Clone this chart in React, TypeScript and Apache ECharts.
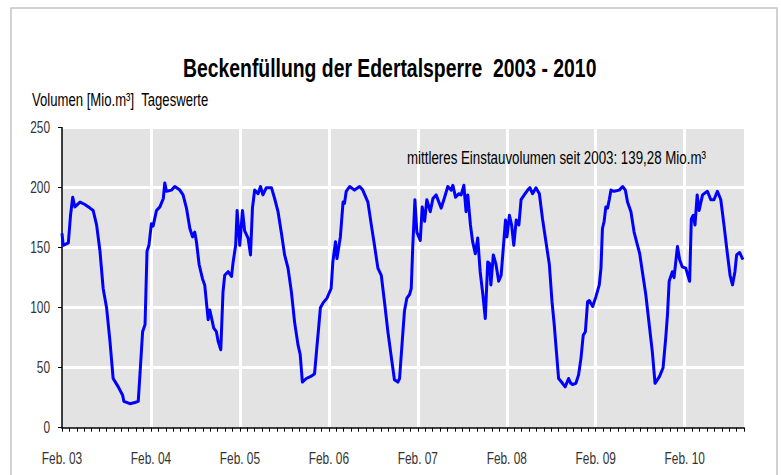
import React, { useEffect, useRef } from "react";
import * as echarts from "echarts";

// ---- data ----
const dates2003 = ["2003-02-01","2003-02-06","2003-02-27","2003-03-08","2003-03-17","2003-03-26","2003-04-16","2003-05-06","2003-05-27","2003-06-09","2003-06-23","2003-07-07","2003-07-20","2003-08-03","2003-08-17","2003-08-30","2003-09-20","2003-10-08","2003-10-13","2003-11-07","2003-11-27","2003-12-11","2003-12-18","2003-12-29"];
const vol2003 = [162,152,154,177,192,184,188,186,183,181,169,147,116,100,72,41,34,27,22,20,21,22,44,80];

const dates2004 = ["2004-01-08","2004-01-16","2004-01-24","2004-02-03","2004-02-10","2004-02-24","2004-03-09","2004-03-23","2004-03-29","2004-04-05","2004-04-26","2004-05-09","2004-05-30","2004-06-12","2004-06-26","2004-07-10","2004-07-21","2004-07-30","2004-08-06","2004-08-17","2004-08-31","2004-09-09","2004-09-23","2004-09-30","2004-10-16","2004-10-27","2004-11-03","2004-11-14","2004-11-23","2004-11-30","2004-12-14","2004-12-28"];
const vol2004 = [86,147,152,170,168,181,184,191,204,197,198,201,198,194,183,166,159,163,155,136,124,119,90,98,83,80,72,65,113,127,130,126];

const dates2005 = ["2005-01-03","2005-01-14","2005-01-20","2005-01-31","2005-02-11","2005-02-20","2005-03-06","2005-03-16","2005-03-24","2005-04-02","2005-04-16","2005-04-26","2005-05-06","2005-05-20","2005-06-10","2005-06-23","2005-07-07","2005-07-21","2005-08-03","2005-08-17","2005-08-31","2005-09-13","2005-09-27","2005-10-06","2005-10-15","2005-10-31","2005-11-21","2005-12-04","2005-12-13","2005-12-22","2005-12-28"];
const vol2005 = [137,152,181,152,181,164,158,144,183,198,195,201,194,200,200,191,180,162,144,133,113,88,69,61,38,41,43,45,66,86,100];

const dates2006 = ["2006-01-08","2006-01-24","2006-02-10","2006-02-17","2006-02-28","2006-03-06","2006-03-20","2006-03-31","2006-04-06","2006-04-13","2006-04-27","2006-05-17","2006-06-07","2006-06-20","2006-07-11","2006-07-25","2006-08-07","2006-08-21","2006-09-04","2006-09-17","2006-10-01","2006-10-15","2006-10-28","2006-11-11","2006-11-18","2006-11-29","2006-12-08","2006-12-18","2006-12-29"];
const vol2006 = [104,108,116,138,155,141,159,188,187,197,201,198,201,198,188,169,152,133,127,105,80,59,40,38,41,72,97,108,111];

const dates2007 = ["2007-01-05","2007-01-11","2007-01-20","2007-01-28","2007-02-11","2007-02-19","2007-03-01","2007-03-10","2007-03-24","2007-04-04","2007-04-17","2007-05-08","2007-05-22","2007-06-04","2007-06-18","2007-06-25","2007-07-06","2007-07-19","2007-07-29","2007-08-09","2007-08-18","2007-08-25","2007-09-05","2007-09-14","2007-09-25","2007-10-05","2007-10-15","2007-10-26","2007-11-05","2007-11-15","2007-11-22","2007-11-28","2007-12-08","2007-12-19","2007-12-30"];
const vol2007 = [116,150,190,163,156,184,172,190,180,191,194,183,192,201,198,202,192,195,194,202,180,194,169,155,145,158,130,111,91,138,137,119,144,136,122];

const dates2008 = ["2008-01-09","2008-01-18","2008-01-27","2008-02-02","2008-02-12","2008-02-21","2008-03-01","2008-03-11","2008-03-22","2008-03-31","2008-04-13","2008-04-27","2008-05-06","2008-05-17","2008-05-31","2008-06-14","2008-06-27","2008-07-11","2008-07-25","2008-08-05","2008-08-14","2008-08-24","2008-09-01","2008-09-17","2008-09-28","2008-10-12","2008-10-21","2008-10-28","2008-11-11","2008-11-22","2008-12-02","2008-12-11","2008-12-20","2008-12-29"];
const vol2008 = [127,150,173,159,177,169,152,173,169,190,194,198,200,195,200,195,174,155,136,105,86,61,41,37,34,41,37,36,37,44,58,77,80,105];

const dates2009 = ["2009-01-05","2009-01-19","2009-02-01","2009-02-15","2009-02-22","2009-02-28","2009-03-07","2009-03-14","2009-03-21","2009-03-28","2009-04-04","2009-04-17","2009-05-08","2009-05-22","2009-06-02","2009-06-11","2009-06-25","2009-07-08","2009-07-22","2009-07-31","2009-08-11","2009-08-25","2009-09-08","2009-09-21","2009-10-02","2009-10-12","2009-10-21","2009-11-04","2009-11-15","2009-11-22","2009-11-29","2009-12-12","2009-12-19"];
const vol2009 = [106,101,109,119,133,166,172,184,183,190,198,197,198,201,198,188,180,163,152,145,130,111,86,63,37,40,43,50,75,94,122,130,125];

const dates2010 = ["2010-01-02","2010-01-11","2010-01-22","2010-02-05","2010-02-21","2010-02-28","2010-03-08","2010-03-15","2010-03-24","2010-04-01","2010-04-15","2010-05-05","2010-05-19","2010-06-01","2010-06-15","2010-06-29","2010-07-12","2010-07-26","2010-08-06","2010-08-16","2010-08-26","2010-09-02","2010-09-14","2010-09-28"];
const vol2010 = [151,140,134,133,122,174,177,169,194,181,194,197,190,190,197,190,169,145,127,119,130,144,146,140];

const yTicks = [0, 50, 100, 150, 200, 250];
const yearLabels = ["Feb. 03","Feb. 04","Feb. 05","Feb. 06","Feb. 07","Feb. 08","Feb. 09","Feb. 10"];

const titleText = "Beckenfüllung der Edertalsperre  2003 - 2010";
const unitText = "Volumen [Mio.m³]  Tageswerte";
const noteText = "mittleres Einstauvolumen seit 2003: 139,28 Mio.m³";

// ---- helpers ----
const ORIGIN = Date.UTC(2003, 1, 1);
const DAY = 86400000;
const MONTH = 365.25 / 12;
const YEAR = 365.25;
const X_MAX = 92 * MONTH;

function toDay(s: string): number {
  const [y, m, d] = s.split("-").map(Number);
  return (Date.UTC(y, m - 1, d) - ORIGIN) / DAY;
}

const allDates = [...dates2003, ...dates2004, ...dates2005, ...dates2006, ...dates2007, ...dates2008, ...dates2009, ...dates2010];
const allVols = [...vol2003, ...vol2004, ...vol2005, ...vol2006, ...vol2007, ...vol2008, ...vol2009, ...vol2010];
const seriesData = allDates.map((d, i) => [toDay(d), allVols[i]]);

const FONT = "'Liberation Sans', Arial, sans-serif";
const NARROW = 0.7;

export default function App() {
  const ref = useRef<HTMLDivElement>(null);
  useEffect(() => {
    if (!ref.current) return;
    const chart = echarts.init(ref.current, null, { renderer: "svg" });
    chart.setOption({
      animation: false,
      backgroundColor: "#ffffff",
      grid: {
        left: 62,
        top: 127.7,
        right: 37,
        bottom: 47.3,
        show: true,
        backgroundColor: "#e3e3e3",
        borderWidth: 0,
        containLabel: false,
      },
      xAxis: [
        {
          type: "value",
          min: 0,
          max: X_MAX,
          interval: MONTH,
          axisLine: { show: true, lineStyle: { color: "#000", width: 1.5 } },
          axisTick: { show: true, length: 4, lineStyle: { color: "#000", width: 1 } },
          splitLine: { show: false },
          axisLabel: { show: false },
        },
        {
          type: "value",
          min: 0,
          max: X_MAX,
          interval: YEAR,
          position: "bottom",
          axisLine: { show: false },
          axisTick: { show: false },
          axisLabel: { show: false },
          splitLine: { show: true, showMinLine: false, showMaxLine: false, lineStyle: { color: "#ffffff", width: 3 } },
        },
      ],
      yAxis: {
        type: "value",
        min: yTicks[0],
        max: yTicks[yTicks.length - 1],
        interval: 50,
        axisLine: { show: true, lineStyle: { color: "#000", width: 1.5 } },
        axisTick: { show: true, length: 4, lineStyle: { color: "#000" } },
        axisLabel: { show: false },
        splitLine: { show: true, showMinLine: false, lineStyle: { color: "#ffffff", width: 3 } },
      },
      series: [
        {
          type: "line",
          xAxisIndex: 0,
          data: seriesData,
          showSymbol: false,
          symbol: "none",
          lineStyle: { color: "#0000ff", width: 3, join: "round" },
          z: 5,
        },
      ],
    });

    // tick labels placed through the axes' own scales (narrow, like the original)
    const labelEls: any[] = [];
    yTicks.forEach((v) => {
      const py = chart.convertToPixel({ yAxisIndex: 0 }, v) as number;
      labelEls.push({
        type: "text",
        x: 50,
        y: py,
        scaleX: NARROW,
        z: 10,
        style: { text: String(v), font: `17px ${FONT}`, fill: "#333", align: "right", verticalAlign: "middle" },
      });
    });
    yearLabels.forEach((lab, i) => {
      const px = chart.convertToPixel({ xAxisIndex: 0 }, i * YEAR) as number;
      labelEls.push({
        type: "text",
        x: px,
        y: 458.3,
        scaleX: NARROW,
        z: 10,
        style: { text: lab, font: `17px ${FONT}`, fill: "#333", align: "center", verticalAlign: "middle" },
      });
    });

    chart.setOption({
      graphic: [
        {
          type: "rect",
          shape: { x: 11, y: 8, width: 766, height: 520 },
          style: { fill: "none", stroke: "#c4c4c4", lineWidth: 1.5 },
          silent: true,
        },
        {
          type: "text",
          x: 183,
          y: 68.3,
          scaleX: 0.775,
          style: { text: titleText, font: `bold 25px ${FONT}`, fill: "#000", align: "left", verticalAlign: "middle" },
        },
        {
          type: "text",
          x: 32,
          y: 99.3,
          scaleX: 0.71,
          style: { text: unitText, font: `18.5px ${FONT}`, fill: "#000", align: "left", verticalAlign: "middle" },
        },
        {
          type: "text",
          x: 407,
          y: 157.5,
          z: 10,
          scaleX: 0.72,
          style: { text: noteText, font: `18.5px ${FONT}`, fill: "#000", align: "left", verticalAlign: "middle" },
        },
        ...labelEls,
      ],
    });
    return () => chart.dispose();
  }, []);
  return (
    <div
      ref={ref}
      style={{ position: "fixed", left: 0, top: 0, width: 781, height: 475 }}
    />
  );
}
